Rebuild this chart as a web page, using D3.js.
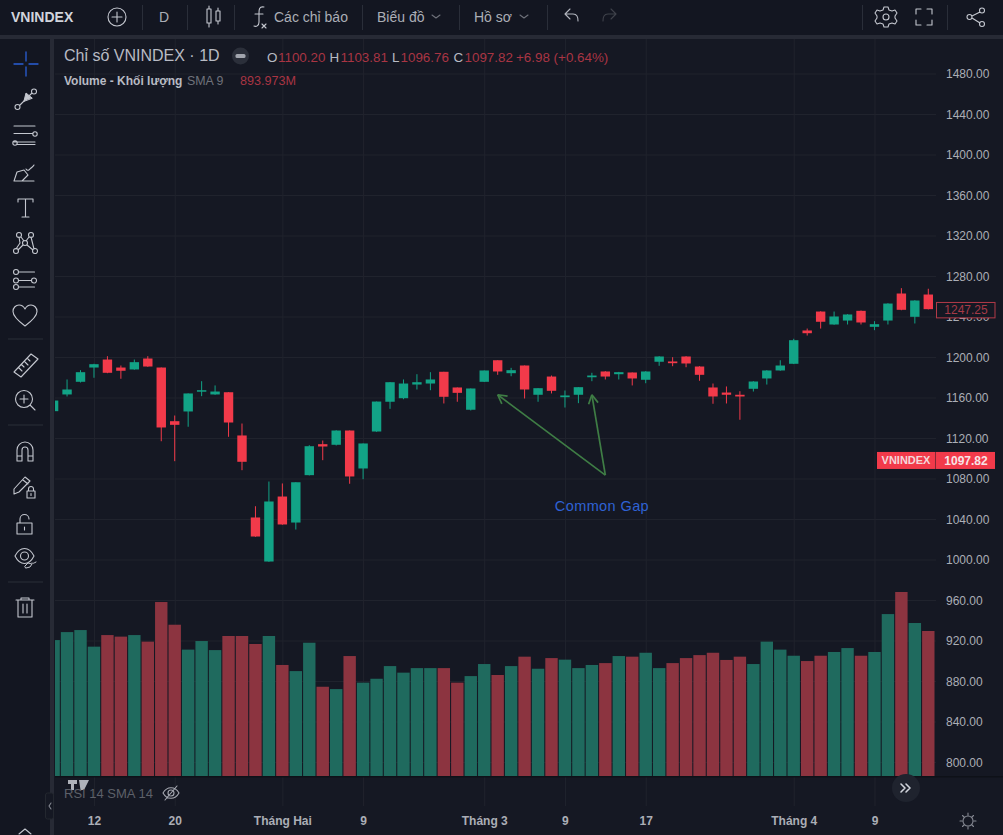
<!DOCTYPE html>
<html lang="vi">
<head>
<meta charset="utf-8">
<title>VNINDEX</title>
<script src="https://cdn.jsdelivr.net/npm/d3@7/dist/d3.min.js"></script>
<style>
  html, body { margin: 0; padding: 0; background: #131722; overflow: hidden; }
  svg { display: block; font-family: "Liberation Sans", Arial, sans-serif; }
</style>
</head>
<body>
<svg id="chart" width="1003" height="835"></svg>
<script>
// Daily OHLC session values for VNINDEX
const opens = [1146.5,1163,1175.5,1189.6,1197.5,1189.6,1187.7,1198.5,1189.6,1136.6,1146.2,1165.9,1163,1165.2,1122.5,1041.5,998,1062.2,1036.5,1083.3,1113.9,1113.3,1127.4,1089.9,1126.4,1155.8,1159.3,1172.8,1173.8,1185.4,1169.9,1147.9,1175.5,1196.8,1184,1191.6,1162.7,1180.7,1160.3,1162.7,1180,1185.7,1183,1184.7,1177.5,1195.3,1195.6,1200.5,1190.6,1169.9,1164.9,1162.7,1168.6,1178.8,1186.7,1193.3,1226.2,1244.9,1232.1,1236,1245.6,1229.8,1236,1262.7,1239.7,1261.7];
const highs = [1158,1177.8,1187,1193.3,1200.8,1191.6,1197.5,1200.8,1189.6,1142.2,1164,1176.1,1171.9,1165.2,1134.3,1052.6,1077,1075.1,1076.3,1112.9,1117.5,1127.7,1127.4,1114.6,1156,1175.3,1177.8,1183,1185,1185.4,1169.9,1168.9,1186.7,1196.8,1189.3,1191.6,1169.2,1181.7,1166.9,1170.2,1184.4,1186,1185.3,1184.7,1186,1200.8,1199.8,1200.8,1190.9,1173.8,1170.9,1166.2,1176.1,1187,1196.8,1218,1228.1,1245.2,1244.9,1242.3,1245.9,1235.4,1253.1,1268,1256.1,1267.4];
const lows = [1146.2,1161,1174.8,1179.5,1184,1178.5,1187.4,1190.3,1116.8,1097.1,1131.1,1161.3,1162.7,1121.2,1088.2,1022.4,997.7,1034.3,1029.6,1083,1098.1,1112.6,1074.8,1079.3,1126.1,1148.8,1158.3,1167.9,1167.2,1154.1,1155.8,1147.2,1175.3,1182.4,1181,1159,1155.8,1164,1150.1,1154.4,1176.1,1177.8,1177.8,1171.9,1174.1,1191.3,1190.9,1189.9,1176.5,1153.8,1154.1,1138,1165.9,1172.8,1186.4,1193,1221.2,1228.1,1231.8,1232.1,1232.1,1226.5,1232.1,1246.2,1233.1,1247];
const closes = [1157,1167.9,1185,1192.9,1184.4,1186.4,1194.9,1190.6,1130.4,1133,1164,1167.2,1165.9,1135.3,1096.5,1022.7,1057.3,1034.6,1076.3,1111.9,1111.6,1127.4,1082,1114.6,1156,1175.1,1173.8,1175.1,1177.8,1160.7,1164.6,1168.9,1186.7,1185.7,1187,1167.9,1169.2,1166.6,1162,1170.2,1181.7,1180.7,1185,1178.8,1185.7,1200.5,1193.9,1193.6,1182.4,1161,1162.7,1161,1175.8,1186.7,1191.6,1216.6,1223.5,1234.8,1240,1242,1234.1,1232.4,1252.8,1246.6,1255.8,1247.25];
// Session volume in millions
const volumes = [868,919,932,826,900,890,900,858,1111,966,807,862,804,894,894,843,894,709,670,851,570,555,766,596,621,702,660,689,689,689,596,638,715,645,702,762,685,753,743,689,709,721,766,762,787,689,721,753,772,787,741,762,715,858,807,768,734,768,792,817,768,792,1034,1175,977,926];

// Axis labels
const priceTicks = [800,840,880,920,960,1000,1040,1080,1120,1160,1200,1240,1280,1320,1360,1400,1440,1480];
const timeTickIndex = [3,9,17,23,32,38,44,55,61];
const timeTickLabels = ["12","20","Tháng Hai","9","Tháng 3","9","17","Tháng 4","9"];

// Hand-drawn annotation: session index and price of each end
const gapOrigin = [41,1083.3];
const gapTips = [[33,1162.7],[40,1162.7]];
const gapLabel = {text:"Common Gap", at:[40.75,1048]};

const lastPrice = 1097.82;
const prevMarker = 1247.25;

const C = {
  bg:"#151823", bar:"#131621", sep:"#272a35", grid:"#20232d",
  up:"#12a386", down:"#f23a4a", volUp:"#1f6a5e", volDown:"#8c3440",
  text:"#b8bbc4", axis:"#abaeb6", icon:"#c4c7cf", legendRed:"#a93543"
};

const svg = d3.select("#chart");
const plot = {left:55, right:936, top:39, pane:776, bottom:806};

const x = d3.scaleLinear().domain([0,65]).range([53.6,928.3]);
const y = d3.scaleLinear().domain([800,1480]).range([762,73.5]);
const vol = d3.scaleLinear().domain([0,1175]).range([plot.pane,plot.pane-184]);
const bandW = 12.4, bodyW = 9.4;

svg.append("rect").attr("width",1003).attr("height",835).attr("fill",C.bg);

svg.append("defs").append("clipPath").attr("id","plotClip").append("rect")
  .attr("x",plot.left).attr("y",plot.top)
  .attr("width",plot.right-plot.left).attr("height",plot.bottom-plot.top);

// Grid
const hGrid = svg.append("g").attr("transform",`translate(${plot.right},0)`)
  .call(d3.axisLeft(y).tickValues(priceTicks).tickSize(plot.right-plot.left).tickFormat(""));
hGrid.select(".domain").remove();
hGrid.selectAll("line").attr("stroke",C.grid);

const vGrid = svg.append("g").attr("transform",`translate(0,${plot.bottom})`)
  .call(d3.axisTop(x).tickValues(timeTickIndex).tickSize(plot.bottom-plot.top).tickFormat(""));
vGrid.select(".domain").remove();
vGrid.selectAll("line").attr("stroke",C.grid);

const chart = svg.append("g").attr("clip-path","url(#plotClip)");

// Volume columns
chart.append("g").selectAll("rect").data(volumes).join("rect")
  .attr("x",(d,i)=>x(i)-bandW/2).attr("width",bandW)
  .attr("y",d=>vol(d)).attr("height",d=>vol(0)-vol(d))
  .attr("fill",(d,i)=>closes[i]>=opens[i]?C.volUp:C.volDown);

// Candles
const candles = chart.append("g").selectAll("g").data(d3.range(opens.length)).join("g");
candles.append("line")
  .attr("x1",i=>x(i)).attr("x2",i=>x(i))
  .attr("y1",i=>y(highs[i])).attr("y2",i=>y(lows[i]))
  .attr("stroke",i=>closes[i]>=opens[i]?C.up:C.down).attr("stroke-width",1);
candles.append("rect")
  .attr("x",i=>x(i)-bodyW/2).attr("width",bodyW)
  .attr("y",i=>y(Math.max(opens[i],closes[i])))
  .attr("height",i=>Math.max(1.5,Math.abs(y(opens[i])-y(closes[i]))))
  .attr("fill",i=>closes[i]>=opens[i]?C.up:C.down);

// Common Gap annotation
const ann = svg.append("g").attr("stroke","#3f7d45").attr("stroke-width",1.7).attr("fill","none");
gapTips.forEach(t=>{
  const x0=x(gapOrigin[0]), y0=y(gapOrigin[1]), x1=x(t[0]), y1=y(t[1]);
  ann.append("line").attr("x1",x0).attr("y1",y0).attr("x2",x1).attr("y2",y1);
  const a=Math.atan2(y0-y1,x0-x1), L=10;
  [-0.5,0.5].forEach(da=>{
    ann.append("line").attr("x1",x1).attr("y1",y1)
      .attr("x2",x1+L*Math.cos(a+da)).attr("y2",y1+L*Math.sin(a+da));
  });
});
svg.append("text").attr("x",x(gapLabel.at[0])).attr("y",y(gapLabel.at[1]))
  .attr("text-anchor","middle").attr("font-size",14.5).attr("letter-spacing",0.4)
  .attr("fill","#2f62d4").text(gapLabel.text);

// Pane divider and the lower pane strip
svg.append("rect").attr("x",plot.left).attr("y",plot.pane).attr("width",948).attr("height",1.5).attr("fill","#0e1118");

// Price axis
const priceAxis = svg.append("g").attr("transform","translate(944,0)")
  .call(d3.axisRight(y).tickValues(priceTicks).tickSize(0).tickFormat(d3.format(".2f")));
priceAxis.select(".domain").remove();
priceAxis.selectAll("text").attr("fill",C.axis).attr("font-size",12).attr("x",2).attr("dy","0.34em");

// Time axis
const timeAxis = svg.append("g").attr("transform",`translate(0,${plot.bottom+8})`)
  .call(d3.axisBottom(x).tickValues(timeTickIndex).tickSize(0)
    .tickFormat((d,i)=>timeTickLabels[i]));
timeAxis.select(".domain").remove();
timeAxis.selectAll("text").attr("fill",C.axis).attr("font-size",12).attr("font-weight",700).attr("dy","0.71em").attr("y",2);

// Marker on the price scale
const markerY = y(prevMarker)+1;
svg.append("rect").attr("x",936.5).attr("y",markerY-7.7).attr("width",58.5).attr("height",15.4)
  .attr("fill",C.bg).attr("stroke","#b23a48");
svg.append("text").attr("x",966).attr("y",markerY+4.3).attr("text-anchor","middle")
  .attr("font-size",12).attr("fill","#a63a47").text(prevMarker.toFixed(2));

// Last price tag
const tagY = y(lastPrice);
svg.append("rect").attr("x",877).attr("y",tagY-8.5).attr("width",58.5).attr("height",17).attr("fill",C.down);
svg.append("rect").attr("x",936).attr("y",tagY-8.5).attr("width",59).attr("height",17).attr("fill",C.down);
svg.append("text").attr("x",906).attr("y",tagY+4).attr("text-anchor","middle")
  .attr("font-size",11).attr("font-weight",700).attr("fill","#f4d7da").text("VNINDEX");
svg.append("text").attr("x",966).attr("y",tagY+4.3).attr("text-anchor","middle")
  .attr("font-size",12).attr("font-weight",700).attr("fill","#f7e4e6").text(lastPrice.toFixed(2));

// Legend
svg.append("text").attr("x",64).attr("y",60.5).attr("font-size",16).attr("fill",C.text).text("Chỉ số VNINDEX · 1D");
svg.append("circle").attr("cx",240.5).attr("cy",56).attr("r",8.5).attr("fill","#2b2f3a");
svg.append("rect").attr("x",235.5).attr("y",54).attr("width",10).attr("height",4).attr("rx",1.5).attr("fill","#a2a5ae");
const ohlcRow = [["O",267,"1100.20"],["H",329.5,"1103.81"],["L",392,"1096.76"],["C",453.5,"1097.82"]];
ohlcRow.forEach(([k,px,v])=>{
  svg.append("text").attr("x",px).attr("y",62).attr("font-size",13.4).attr("fill",C.text).text(k);
  svg.append("text").attr("x",px+ (k==="L"?8.5:11)).attr("y",62).attr("font-size",13.4).attr("fill",C.legendRed).text(v);
});
svg.append("text").attr("x",516).attr("y",62).attr("font-size",13.4).attr("fill",C.legendRed).text("+6.98 (+0.64%)");
svg.append("text").attr("x",64).attr("y",84.5).attr("font-size",12).attr("font-weight",700).attr("fill",C.text).text("Volume - Khối lượng");
svg.append("text").attr("x",187).attr("y",84.5).attr("font-size",12.4).attr("fill","#6f727b").text("SMA 9");
svg.append("text").attr("x",240).attr("y",84.5).attr("font-size",12.6).attr("fill",C.legendRed).text("893.973M");

// Toolbar frames
svg.append("rect").attr("width",1003).attr("height",35).attr("fill",C.bar);
svg.append("rect").attr("y",35).attr("width",1003).attr("height",4).attr("fill",C.sep);
svg.append("rect").attr("y",39).attr("width",50).attr("height",796).attr("fill",C.bar);
svg.append("rect").attr("x",50).attr("y",39).attr("width",4).attr("height",796).attr("fill",C.sep);

// Top toolbar text and separators
const topText = [["VNINDEX",11,14,700,"#d1d4dc"],["D",159,14,400,C.axis],["Các chỉ báo",274,14,400,C.axis],["Biểu đồ",377,14,400,C.axis],["Hồ sơ",474,14,400,C.axis]];
topText.forEach(([t,px,fs,w,c])=>svg.append("text").attr("x",px).attr("y",22).attr("font-size",fs).attr("font-weight",w).attr("fill",c).text(t));
[142,187,234,362,459,547,862,947].forEach(px=>svg.append("line").attr("x1",px+.5).attr("x2",px+.5).attr("y1",5).attr("y2",30).attr("stroke","#2a2e39"));

// Line icons, each placed by its top-left corner
function icon(px,py,d,color,width,fill){
  svg.append("path").attr("transform",`translate(${px},${py})`).attr("d",d)
    .attr("fill",fill||"none").attr("stroke",color||C.icon).attr("stroke-width",width||1.1)
    .attr("stroke-linecap","round").attr("stroke-linejoin","round");
}
const circle=(cx,cy,r)=>`M${cx-r},${cy}a${r},${r} 0 1,0 ${2*r},0a${r},${r} 0 1,0 ${-2*r},0`;

// top bar
icon(108,8,circle(9,9,9)+"M9,4v10M4,9h10");
icon(204,6,"M3,3h4v14h-4zM5,0v3M5,17v4M12,5h4v10h-4zM14,2v3M14,15v3");
icon(252,6,"M12,1c-5,-1 -5,3 -5,6v9c0,4 -3,5 -5,4M3,8h8M10,18l4,4M14,18l-4,4");
icon(432,15,"M0,0l4,3l4,-3","#6f727b");
icon(520,15,"M0,0l4,3l4,-3","#6f727b");
icon(564,9,"M1,5l5,-5M1,5l5,5M1,5h8c4,0 5,3 5,7","#b2b5be");
icon(602,9,"M14,5l-5,-5M14,5l-5,5M14,5h-8c-4,0 -5,3 -5,7","#3f424b");
icon(876,7,"M8,0h4l1,3l3,1l3,-1l2,3l-2,3v2l2,3l-2,3l-3,-1l-3,1l-1,3h-4l-1,-3l-3,-1l-3,1l-2,-3l2,-3v-2l-2,-3l2,-3l3,1l3,-1z"+circle(10,10,3));
icon(916,9,"M0,5v-5h5M11,0h5v5M16,11v5h-5M5,16h-5v-5");
icon(967,8,circle(2.5,9,2.5)+circle(15,2.5,2.5)+circle(15,16,2.5)+"M5,8l8,-4M5,10l8,5");

// left tools
icon(14,52,"M12,0v9M12,15v9M0,12h9M15,12h9","#2a5fd6",1.3);
icon(15,89,circle(2.5,18,2.5)+circle(19,2.5,2.5)+"M4.5,16.5l12,-12");
icon(24,93,"M0,8l2,-8l6,5z","#c4c7cf",1,"#c4c7cf");
icon(13,126,"M1,0h21M1,7.5h19M1,16h21M4,18.5h18"+circle(22,8,2.2)+circle(2,17,2.2));
icon(14,163,"M0,18l3,-9l7,-2l4,5l-6,6zM12,6c2,3 4,0 5,-1s2,-1 3,-3M8,18h12");
icon(18,198,"M0,4v-3h15v3M7.5,1v18M4,19h7");
icon(14,232,circle(5,3,2.5)+circle(17,3,2.5)+circle(11,11,2.5)+circle(2,19,2.5)+circle(21,19,2.5)+"M5,5l1,6l-4,6M17,5l3,12M7,5l3,4M15,5l-3,4M9,13l-5,5M13,13l6,5");
icon(13,269,circle(3,3,2.5)+"M5.5,3h16M3,11.5"+circle(3,11.5,2.5)+circle(21,11.5,2.5)+"M5.5,11.5h13"+circle(3,18,2.5)+"M5.5,18h16");
icon(13,305,"M12,21C4,15 0,11 0,6.5C0,2.5 3,0 6,0c3,0 5,2 6,4c1,-2 3,-4 6,-4c3,0 6,2.5 6,6.5C24,11 20,15 12,21z");
svg.append("line").attr("x1",8).attr("x2",43).attr("y1",339).attr("y2",339).attr("stroke","#2a2e39");
icon(14,354,"M0,18L17,0l7,5L7,23zM5,14l3,3M8,11l2,2M11,8l3,3M14,5l2,2");
icon(15,390,circle(9,9,8.5)+"M15,15l5,5M9,5v8M5,9h8");
svg.append("line").attr("x1",8).attr("x2",43).attr("y1",425).attr("y2",425).attr("stroke","#2a2e39");
icon(17,441,"M0,20V9a8,8 0 0,1 16,0v11h-5V9a3,3 0 0,0 -6,0v11zM0,15h5M11,15h5");
icon(14,475,"M0,14L11,2l5,4L5,17l-5,2zM9,5l5,4");
icon(27,486,"M0,5h8v7h-8zM1.5,5v-2a2.5,2.5 0 0,1 5,0v2M4,7.5v2");
icon(17,513,"M0,10h15v11h-15zM3,10V6a4.5,4.5 0 0,1 9,0M7.5,14v3");
icon(15,548,"M0,8c5,-10 14,-10 19,0c-5,10 -14,10 -19,0z"+circle(9.5,8,4));
icon(25,561,"M0,5l3,-3l4,1l-2,3l-4,1zM7,2c1,1 2,0 4,-1","#c4c7cf",1);
svg.append("line").attr("x1",8).attr("x2",43).attr("y1",582).attr("y2",582).attr("stroke","#2a2e39");
icon(16,597,"M0,3h18M5,3v-2h8v2M2,3v17h14V3M7,7v9M11,7v9");

// Lower pane overlays
svg.append("path").attr("transform","translate(68,780)")
  .attr("d","M0,0h9v4h-3v6h-3v-6h-3zM11,0h10l-5,10h-3.5z").attr("fill","#c9ccd3").attr("opacity",.85);
svg.append("text").attr("x",64).attr("y",798).attr("font-size",13).attr("fill","#5d6069").text("RSI 14 SMA 14");
icon(163,786,"M0,7c4,-7 12,-7 16,0c-4,7 -12,7 -16,0z"+circle(8,7,3)+"M2,14L14,0","#a6a9b2");
svg.append("circle").attr("cx",906).attr("cy",788).attr("r",14).attr("fill","#1f232e");
icon(901,784,"M0,0l4,4l-4,4M5,0l4,4l-4,4","#d1d4dc",1.6);
svg.append("rect").attr("x",45.5).attr("y",793).attr("width",8).attr("height",26).attr("rx",2).attr("fill",C.bg).attr("stroke","#23272f");
icon(48,803,"M3,0l-2,3l2,3","#868993");
icon(960,813,circle(8,8,5)+"M8,0v2M8,14v2M0,8h2M14,8h2M2.5,2.5l1.5,1.5M12,12l1.5,1.5M2.5,13.5l1.5,-1.5M12,4l1.5,-1.5","#868993");
icon(19,828,"M0,6l6,-5l6,5","#c4c7cf");
</script>
</body>
</html>
